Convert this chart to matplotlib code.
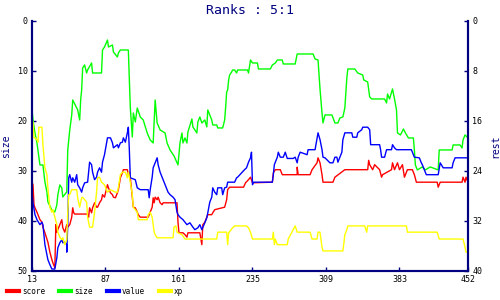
import matplotlib
matplotlib.use("Agg")
import matplotlib.pyplot as plt
from matplotlib.lines import Line2D

# data
size_x = [13, 14, 16, 18, 21, 24, 26, 28, 29, 33, 36, 38, 39, 41, 43, 44, 48, 49, 51, 53,
          54, 59, 61, 62, 63, 64, 66, 68, 69, 73, 74, 83, 84, 86, 89, 90, 94, 95, 99, 100,
          102, 110, 112, 114, 115, 117, 119, 122, 125, 129, 132, 135, 137, 139, 142, 147, 149, 152, 156, 160,
          162, 164, 165, 167, 169, 170, 174, 175, 177, 179, 180, 182, 184, 187, 189, 190, 194, 195, 199, 200,
          205, 207, 208, 209, 210, 211, 212, 214, 215, 217, 219, 220, 230, 231, 233, 235, 240, 241, 253, 255,
          258, 260, 265, 266, 278, 280, 296, 298, 301, 303, 305, 306, 308, 315, 318, 321, 323, 326, 328, 330,
          331, 338, 341, 346, 347, 351, 353, 355, 368, 370, 371, 373, 376, 378, 380, 381, 384, 387, 389, 392,
          397, 398, 399, 401, 406, 409, 414, 422, 423, 436, 437, 444, 446, 447, 449, 452]
size_y = [17.6, 19.8, 22.4, 24.4, 28.8, 28.8, 32.2, 34.2, 36.2, 37.8, 38.2, 36.8, 34.8, 32.8, 33.4, 35.2, 34.2, 25.8, 21.8, 18.8,
          15.8, 17.8, 19.8, 15.8, 13.8, 9.4, 8.8, 10.4, 9.8, 8.4, 10.4, 10.4, 5.8, 5.2, 3.8, 5.2, 4.8, 6.2, 7.2, 6.4,
          5.8, 5.8, 17.4, 23.2, 18.4, 20.2, 17.4, 19.2, 19.8, 22.4, 23.8, 24.4, 15.8, 20.4, 21.8, 22.4, 24.4, 25.8, 27.0, 28.8,
          24.4, 22.4, 24.4, 23.4, 24.4, 22.2, 19.6, 21.2, 21.8, 22.4, 20.2, 19.2, 20.4, 19.8, 21.2, 17.8, 19.8, 20.8, 20.8, 21.4,
          21.4, 19.8, 17.2, 14.2, 13.8, 11.8, 10.8, 10.2, 9.8, 9.8, 10.4, 9.8, 9.8, 10.4, 7.8, 8.4, 8.4, 9.6, 9.6, 8.8,
          8.4, 7.8, 7.8, 8.6, 8.6, 6.6, 6.6, 7.6, 7.8, 13.6, 18.4, 20.4, 18.8, 18.8, 20.4, 20.4, 19.4, 19.2, 17.4, 11.4,
          9.6, 9.6, 10.4, 10.8, 11.8, 12.2, 15.2, 15.6, 15.6, 16.4, 14.6, 15.6, 13.6, 15.6, 17.8, 22.4, 22.8, 21.6, 22.4, 23.4,
          23.4, 25.8, 28.8, 29.8, 29.2, 29.8, 29.2, 29.8, 25.8, 25.8, 24.8, 24.8, 25.4, 23.8, 22.8, 23.4]

score_x = [13, 14, 15, 16, 18, 21, 23, 24, 26, 29, 31, 33, 34, 36, 37, 38, 39, 41, 43, 44,
           46, 48, 49, 51, 53, 54, 55, 56, 69, 70, 71, 73, 74, 76, 78, 79, 81, 83, 84, 86,
           89, 90, 92, 94, 95, 97, 99, 100, 102, 104, 105, 109, 110, 111, 112, 113, 114, 115, 117, 119,
           120, 122, 130, 132, 134, 135, 136, 137, 139, 140, 142, 144, 145, 159, 160, 161, 165, 167, 169, 170,
           182, 184, 185, 187, 190, 194, 195, 197, 207, 209, 210, 212, 226, 228, 231, 233, 235, 255, 256, 258,
           263, 265, 280, 280, 281, 293, 295, 300, 301, 303, 305, 306, 316, 318, 328, 351, 352, 353, 356, 358,
           363, 365, 366, 375, 376, 378, 381, 383, 386, 388, 391, 396, 398, 400, 421, 422, 424, 446, 447, 449,
           450, 452]
score_y = [25.8, 26.2, 29.4, 29.9, 30.6, 31.8, 32.2, 33.0, 33.9, 35.4, 37.0, 38.2, 38.7, 39.5, 32.6, 33.8, 33.4, 32.6, 31.8, 33.1,
           33.8, 32.6, 33.0, 32.6, 31.4, 29.9, 30.7, 30.9, 30.9, 31.4, 29.9, 30.7, 29.9, 29.1, 29.8, 29.8, 29.1, 28.6, 27.8, 28.2,
           26.2, 26.7, 27.5, 27.8, 28.2, 28.3, 27.5, 27.0, 25.1, 24.3, 23.8, 23.8, 24.6, 24.2, 25.1, 26.7, 28.3, 29.8, 29.9, 30.6,
           31.0, 31.4, 31.4, 30.6, 29.8, 28.3, 29.1, 28.2, 28.6, 28.2, 29.1, 29.4, 29.1, 29.1, 32.2, 33.9, 33.9, 34.2, 34.6, 33.9,
           33.9, 35.8, 32.6, 32.2, 31.0, 31.0, 30.7, 30.2, 29.8, 28.6, 27.0, 26.6, 26.6, 25.9, 25.4, 25.0, 25.9, 25.8, 24.3, 23.8,
           23.8, 24.6, 24.6, 23.4, 24.6, 24.6, 23.8, 22.7, 21.9, 22.7, 24.6, 25.8, 25.8, 25.0, 23.8, 23.8, 22.3, 23.0, 23.8, 23.0,
           23.8, 25.0, 24.6, 23.8, 22.7, 23.8, 22.7, 23.8, 23.0, 25.0, 23.8, 23.8, 24.6, 25.8, 25.8, 26.6, 25.8, 25.8, 25.0, 25.8,
           25.0, 25.8]

value_x = [13, 14, 16, 18, 21, 23, 24, 26, 28, 29, 31, 33, 36, 38, 39, 41, 43, 44, 46, 48,
           48, 49, 50, 51, 53, 54, 56, 58, 59, 61, 63, 64, 66, 69, 71, 73, 74, 76, 78, 79,
           81, 83, 84, 86, 89, 92, 94, 95, 99, 100, 102, 104, 105, 107, 109, 110, 111, 112, 117, 119,
           122, 130, 131, 132, 134, 135, 137, 139, 140, 142, 144, 145, 147, 150, 152, 155, 157, 159, 160, 162,
           165, 169, 172, 175, 177, 180, 182, 184, 187, 189, 190, 192, 194, 195, 197, 199, 200, 204, 205, 207,
           209, 210, 217, 219, 220, 224, 227, 229, 231, 233, 234, 235, 236, 255, 256, 257, 258, 260, 261, 263,
           266, 268, 270, 276, 278, 280, 281, 283, 290, 291, 298, 301, 303, 305, 306, 308, 313, 316, 318, 320,
           321, 323, 325, 326, 328, 335, 336, 340, 341, 345, 346, 351, 353, 354, 363, 364, 365, 368, 370, 375,
           376, 378, 380, 395, 396, 398, 403, 405, 406, 408, 410, 422, 424, 427, 436, 437, 439, 452]
value_y = [27.5, 29.1, 31.0, 31.8, 32.6, 32.2, 32.6, 35.8, 37.4, 38.2, 39.0, 39.7, 39.7, 37.9, 36.3, 35.5, 35.0, 35.5, 35.4, 35.8,
           37.0, 32.6, 25.1, 24.6, 25.8, 25.1, 25.8, 24.6, 26.2, 26.7, 27.4, 26.7, 25.9, 25.8, 22.6, 23.0, 24.2, 25.4, 25.0, 24.2,
           23.5, 24.2, 22.6, 21.4, 18.7, 18.7, 19.5, 20.3, 19.8, 20.3, 19.5, 19.4, 18.7, 19.4, 17.9, 17.0, 20.6, 25.1, 25.4, 26.7,
           27.0, 27.0, 28.3, 27.0, 25.0, 23.5, 22.7, 21.9, 23.0, 24.2, 25.0, 25.4, 26.2, 27.4, 27.8, 28.2, 28.6, 30.6, 31.0, 31.4,
           31.8, 32.6, 32.3, 33.0, 33.4, 33.1, 32.6, 33.4, 32.3, 31.5, 30.7, 29.0, 28.2, 26.7, 27.4, 27.8, 26.7, 26.7, 27.8, 26.7,
           26.6, 25.8, 25.8, 25.1, 25.0, 24.3, 23.8, 23.5, 22.6, 21.9, 21.0, 26.2, 25.8, 25.8, 24.6, 23.0, 22.6, 21.8, 21.0, 21.8,
           21.8, 21.0, 22.0, 22.0, 21.8, 22.7, 21.8, 21.0, 21.4, 20.6, 20.6, 17.9, 19.0, 20.6, 21.8, 21.9, 22.7, 22.7, 21.8, 21.8,
           22.6, 21.8, 21.0, 19.0, 17.9, 17.9, 18.6, 18.6, 17.9, 17.4, 17.0, 17.0, 17.4, 19.8, 19.8, 20.6, 21.8, 21.8, 20.6, 20.6,
           19.8, 20.3, 20.6, 20.6, 21.0, 21.8, 21.9, 22.7, 23.0, 23.8, 24.6, 24.6, 22.7, 23.5, 23.5, 22.7, 21.9, 21.9]

xp_x = [13, 14, 15, 16, 18, 19, 20, 23, 24, 26, 28, 29, 31, 33, 34, 36, 38, 39, 41, 43,
        44, 46, 48, 49, 50, 51, 53, 58, 59, 61, 63, 64, 68, 69, 71, 74, 76, 78, 79, 81,
        83, 86, 89, 92, 97, 99, 100, 102, 104, 107, 109, 110, 112, 114, 115, 119, 120, 129, 130, 132,
        134, 135, 136, 137, 139, 155, 156, 158, 159, 160, 164, 167, 199, 200, 209, 210, 211, 215, 217, 229,
        231, 233, 235, 255, 256, 257, 258, 260, 270, 271, 276, 278, 280, 293, 295, 300, 301, 303, 305, 306,
        326, 327, 328, 330, 331, 348, 350, 351, 390, 391, 421, 423, 447, 449, 450, 452]
xp_y = [15.8, 16.3, 18.7, 18.7, 19.0, 19.4, 17.0, 17.0, 19.8, 23.5, 24.6, 26.7, 29.8, 30.6, 30.2, 31.4, 32.6, 33.8, 34.6, 35.0,
        34.7, 35.8, 35.0, 30.6, 27.8, 27.8, 27.0, 27.0, 28.3, 29.8, 28.3, 28.2, 29.0, 31.4, 33.0, 33.0, 30.6, 27.4, 25.1, 25.0,
        25.8, 26.2, 27.4, 27.0, 27.4, 27.4, 26.6, 24.6, 24.2, 24.2, 25.1, 24.2, 25.8, 27.8, 29.8, 30.6, 31.8, 31.8, 31.0, 30.6,
        31.4, 32.6, 33.8, 34.2, 34.7, 34.7, 33.0, 32.8, 33.8, 33.9, 34.2, 34.9, 34.9, 33.8, 33.8, 35.8, 33.9, 33.1, 32.8, 32.8,
        33.1, 33.8, 34.9, 34.9, 33.8, 35.8, 34.9, 35.8, 35.8, 34.9, 33.4, 32.8, 33.8, 33.8, 34.9, 34.9, 33.8, 33.8, 36.2, 36.8,
        36.8, 35.6, 34.2, 33.4, 32.8, 32.8, 33.8, 32.8, 32.8, 33.8, 33.8, 34.9, 34.9, 36.2, 37.0, 37.0]

x_ticks = [13, 87, 161, 235, 309, 383, 452]
left_ticks = [0, 10, 20, 30, 40, 50]
right_ticks = [0, 8, 16, 24, 32, 40]

navy = "#000080"
mono = ["DejaVu Sans Mono"]

fig = plt.figure(figsize=(5, 3), dpi=100)
ax = fig.add_axes([0.064, 0.097, 0.872, 0.833])
ax2 = ax.twinx()

ax.plot(size_x, size_y, color="#00ff00", lw=1.0)
ax2.plot(score_x, score_y, color="#ff0000", lw=1.0)
ax2.plot(value_x, value_y, color="#0000ff", lw=1.0)
ax2.plot(xp_x, xp_y, color="#ffff00", lw=1.0)

ax.set_xlim(13, 452)
ax.set_ylim(50, 0)
ax2.set_ylim(40, 0)
ax.set_xticks(x_ticks)
ax.set_yticks(left_ticks)
ax2.set_yticks(right_ticks)

for a in (ax, ax2):
    for side in ("left", "right", "bottom"):
        a.spines[side].set_color(navy)
        a.spines[side].set_linewidth(1.5)
    a.spines["top"].set_visible(False)
    a.tick_params(direction="in", length=3, width=1, color=navy, labelsize=6, pad=3)
    for lab in a.get_xticklabels() + a.get_yticklabels():
        lab.set_family(mono)

ax.set_title("Ranks : 5:1", color=navy, fontsize=9.5, family=mono, pad=5)
ax.set_ylabel("size", color=navy, fontsize=7, family=mono)
ax.yaxis.set_label_coords(-0.047, 0.5)
ax2.set_ylabel("rest", color=navy, fontsize=7, family=mono, rotation=90)
ax2.yaxis.set_label_coords(1.05, 0.5)

handles = [Line2D([], [], color=c, lw=3) for c in ("#ff0000", "#00ff00", "#0000ff", "#ffff00")]
fig.legend(handles, ["score", "size", "value", "xp"], loc="lower left", bbox_to_anchor=(0.0, -0.01),
           ncol=4, frameon=False, prop={"family": mono, "size": 5.5}, handlelength=1.6,
           handletextpad=0.4, columnspacing=1.8)

fig.savefig("out.png", dpi=100)
